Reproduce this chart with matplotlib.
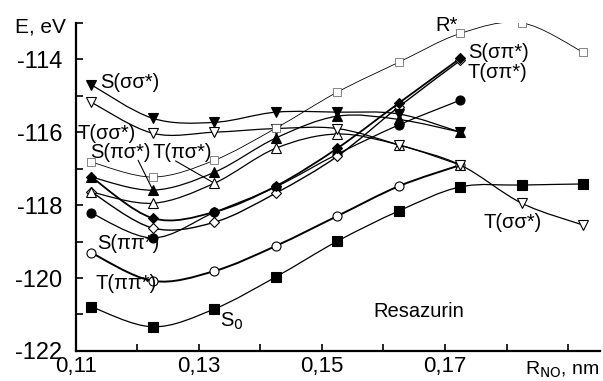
import matplotlib
matplotlib.use('Agg')
import matplotlib.pyplot as plt
from matplotlib.path import Path
from matplotlib.patches import PathPatch
from matplotlib.ticker import MultipleLocator, FuncFormatter

plt.rcParams['font.family'] = ['Liberation Sans', 'DejaVu Sans']

# bond length R(N-O), nm
r_nm = [0.1125, 0.1225, 0.1325, 0.1425, 0.1525, 0.1625, 0.1725, 0.1825, 0.1925]

# energies, eV
s0 = [-120.79, -121.34, -120.85, -119.97, -118.99, -118.16, -117.50, -117.45, -117.42]
t_pipi = [-119.31, -120.08, -119.81, -119.12, -118.30, -117.48, -116.90]
s_pipi = [-118.22, -118.90, -118.20, -117.50, -116.60, -115.80, -115.12]
t_sigpi = [-117.64, -118.63, -118.47, -117.67, -116.66, -115.30, -114.03]
s_sigpi = [-117.23, -118.36, -118.19, -117.48, -116.44, -115.20, -113.97]
t_pisig = [-117.64, -117.95, -117.40, -116.44, -116.05, -116.35, -116.90]
s_pisig = [-117.23, -117.59, -117.10, -116.16, -115.56, -115.65, -116.00]
t_sigsig = [-115.18, -116.03, -116.00, -115.90, -115.90, -116.35, -116.90, -117.95, -118.55]
s_sigsig = [-114.70, -115.62, -115.73, -115.45, -115.45, -115.50, -116.00]
r_star = [-116.82, -117.23, -116.77, -115.89, -114.90, -114.08, -113.29, -113.00, -113.81]


def smooth_curve(ax, xs, ys, lw):
    # catmull-rom style bezier through the points
    pts = list(zip(xs, ys))
    verts = [pts[0]]
    codes = [Path.MOVETO]
    n = len(pts)
    for i in range(n - 1):
        p0 = pts[max(i - 1, 0)]
        p1 = pts[i]
        p2 = pts[i + 1]
        p3 = pts[min(i + 2, n - 1)]
        c1 = (p1[0] + (p2[0] - p0[0]) / 6, p1[1] + (p2[1] - p0[1]) / 6)
        c2 = (p2[0] - (p3[0] - p1[0]) / 6, p2[1] - (p3[1] - p1[1]) / 6)
        verts += [c1, c2, p2]
        codes += [Path.CURVE4] * 3
    ax.add_patch(PathPatch(Path(verts, codes), fill=False, lw=lw, color='black', zorder=2))


fig = plt.figure(figsize=(6.03, 3.81), dpi=100)
ax = fig.add_axes([0.126, 0.079, 0.869, 0.861])

series = [
    (s0, 's', 'black', 0.9),
    (t_pipi, 'o', 'white', 1.4),
    (s_pipi, 'o', 'black', 0.9),
    (t_sigpi, 'D', 'white', 1.0),
    (s_sigpi, 'D', 'black', 1.3),
    (t_pisig, '^', 'white', 0.9),
    (s_pisig, '^', 'black', 0.9),
    (t_sigsig, 'v', 'white', 0.9),
    (s_sigsig, 'v', 'black', 0.9),
]
for ys, mk, face, lw in series:
    xs = r_nm[:len(ys)]
    smooth_curve(ax, xs, ys, lw)
    ms = 5.5 if mk == 'D' else 6.5
    ax.plot(xs, ys, ls='none', marker=mk, ms=ms, mfc=face, mec='black', mew=0.8, zorder=3)

smooth_curve(ax, r_nm, r_star, 0.6)
ax.plot(r_nm, r_star, ls='none', marker='s', ms=6, mfc='white', mec='#555555', mew=0.5, zorder=3)

ax.set_xlim(0.11, 0.1952)
ax.set_ylim(-122, -113.0)
ax.xaxis.set_major_locator(MultipleLocator(0.01))
ax.yaxis.set_major_locator(MultipleLocator(1))


def xfmt(v, pos):
    k = round(v * 100)
    if k % 2 == 1 and k < 19:
        return ('%.2f' % v).replace('.', ',')
    return ''


def yfmt(v, pos):
    k = int(round(v))
    return '%d' % k if k % 2 == 0 else ''


ax.xaxis.set_major_formatter(FuncFormatter(xfmt))
ax.yaxis.set_major_formatter(FuncFormatter(yfmt))
ax.tick_params(direction='in', length=5, width=1.2, labelsize=16)
ax.tick_params(axis='x', pad=4)
ax.tick_params(axis='y', pad=10, labelsize=17)
ax.spines['top'].set_visible(False)
ax.spines['right'].set_visible(False)
for s in ('left', 'bottom'):
    ax.spines[s].set_linewidth(1.6)

fs = 14.5
ax.text(0.1139, -114.63, 'S(σσ*)', fontsize=fs, va='center')
ax.text(0.1103, -116.03, 'T(σσ*)', fontsize=fs, va='center')
ax.text(0.1123, -116.55, 'S(πσ*)', fontsize=fs, va='center')
ax.text(0.1224, -116.55, 'T(πσ*)', fontsize=fs, va='center')
ax.text(0.1134, -119.04, 'S(ππ*)', fontsize=fs, va='center')
ax.text(0.1132, -120.16, 'T(ππ*)', fontsize=fs, va='center')
ax.text(0.1334, -121.18, 'S$_0$', fontsize=fs, va='center')
ax.text(0.1583, -120.93, 'Resazurin', fontsize=fs, va='center')
ax.text(0.1762, -118.47, 'T(σσ*)', fontsize=fs, va='center')
ax.text(0.1684, -113.07, 'R*', fontsize=fs, va='center')
ax.text(0.1737, -113.80, 'S(σπ*)', fontsize=fs, va='center')
ax.text(0.1737, -114.36, 'T(σπ*)', fontsize=fs, va='center')

# leader lines to labels
ax.annotate('', xy=(r_nm[1], s_pisig[1]), xytext=(0.1199, -116.7),
            arrowprops=dict(arrowstyle='-', lw=0.8, color='black'))
ax.annotate('', xy=(r_nm[2], t_pisig[2]), xytext=(0.1258, -116.75),
            arrowprops=dict(arrowstyle='-', lw=0.8, color='black'))

fig.text(0.025, 0.93, 'E, eV', fontsize=15, va='center')
fig.text(0.87, 0.03, 'R$_{\\rm NO}$, nm', fontsize=14, va='center')

fig.savefig('out.png', dpi=100)
